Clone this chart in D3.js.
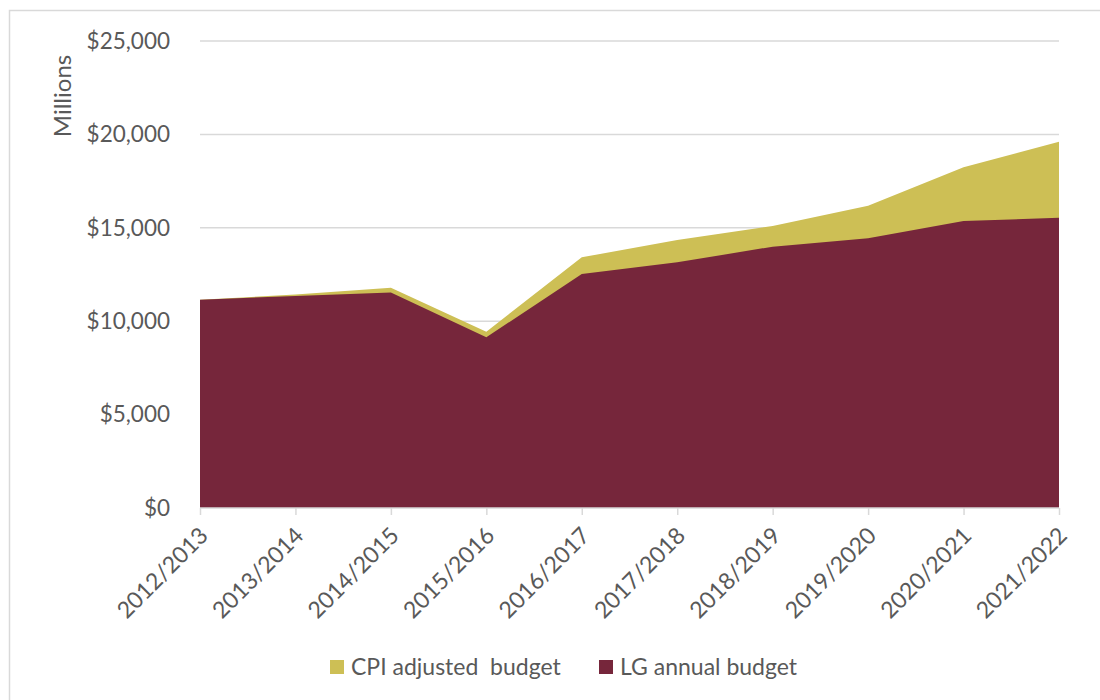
<!DOCTYPE html>
<html>
<head>
<meta charset="utf-8">
<script src="https://cdn.jsdelivr.net/npm/d3@7"></script>
<style>
  html, body { margin: 0; padding: 0; background: #fff; }
  svg { display: block; font-family: Lato, "Open Sans", sans-serif; }
</style>
</head>
<body>
<svg id="chart" width="1100" height="700"></svg>
<script>
// Financial years on the x axis
const years = ["2012/2013", "2013/2014", "2014/2015", "2015/2016", "2016/2017",
               "2017/2018", "2018/2019", "2019/2020", "2020/2021", "2021/2022"];
// Local government annual budget, $ millions
const lgBudget = [11150, 11350, 11530, 9140, 12530, 13150, 13990, 14440, 15360, 15540];
// Budget adjusted by CPI, $ millions
const cpiBudget = [11150, 11430, 11790, 9440, 13420, 14350, 15100, 16180, 18240, 19610];
// Value axis ticks
const yTicks = [0, 5000, 10000, 15000, 20000, 25000];

const seriesNames = ["CPI adjusted  budget", "LG annual budget"];
const colors = { cpi: "#CDBF55", lg: "#76263B" };
const textColor = "#595959";
const gridColor = "#D9D9D9";

const svg = d3.select("#chart");

// Outer chart frame
svg.append("rect")
  .attr("x", 9.5).attr("y", 10.5)
  .attr("width", 1200).attr("height", 800)
  .attr("fill", "none")
  .attr("stroke", gridColor)
  .attr("stroke-width", 1.5);

const x = d3.scalePoint().domain(years).range([200, 1059]);
const y = d3.scaleLinear().domain([0, 25000]).range([508, 41]);

// Horizontal gridlines
svg.append("g")
  .selectAll("line")
  .data(yTicks.filter(d => d > 0))
  .join("line")
  .attr("x1", 200).attr("x2", 1059)
  .attr("y1", d => y(d)).attr("y2", d => y(d))
  .attr("stroke", gridColor)
  .attr("stroke-width", 1.5);

const idx = d3.range(years.length);

const areaOf = vals => d3.area()
  .x(i => x(years[i]))
  .y0(y(0))
  .y1(i => y(vals[i]));

// CPI-adjusted area sits behind the annual budget area
svg.append("path")
  .datum(idx)
  .attr("d", areaOf(cpiBudget))
  .attr("fill", colors.cpi);

svg.append("path")
  .datum(idx)
  .attr("d", areaOf(lgBudget))
  .attr("fill", colors.lg);

// Y axis labels
const yAxis = d3.axisLeft(y)
  .tickValues(yTicks)
  .tickSize(0)
  .tickPadding(0)
  .tickFormat(d => "$" + d3.format(",")(d));

const gy = svg.append("g")
  .attr("transform", "translate(170,0)")
  .call(yAxis);
gy.select(".domain").remove();
gy.selectAll("text")
  .attr("fill", textColor)
  .style("font-size", "22.5px")
  .style("font-family", "Lato, sans-serif");

// X axis with category ticks
const xAxis = d3.axisBottom(x).tickSize(7).tickPadding(4);
const gx = svg.append("g")
  .attr("transform", "translate(0,508)")
  .call(xAxis);
gx.select(".domain").attr("stroke", gridColor).attr("stroke-width", 1.5)
  .attr("d", "M200,0H1059");
gx.selectAll(".tick line").attr("stroke", gridColor).attr("stroke-width", 1.5);
gx.selectAll(".tick text")
  .attr("fill", textColor)
  .style("font-size", "23px")
  .style("font-family", "Lato, sans-serif")
  .attr("text-anchor", "end")
  .attr("dy", null)
  .attr("y", 0)
  .attr("x", 0)
  .attr("transform", "translate(9,29) rotate(-45)");

// Y axis title
svg.append("text")
  .attr("transform", "translate(71,96) rotate(-90)")
  .attr("text-anchor", "middle")
  .attr("fill", textColor)
  .style("font-size", "24px")
  .text("Millions");

// Legend
const legendItems = [
  { name: seriesNames[0], color: colors.cpi, x: 330 },
  { name: seriesNames[1], color: colors.lg, x: 599 }
];
const lg = svg.append("g").selectAll("g")
  .data(legendItems)
  .join("g")
  .attr("transform", d => `translate(${d.x},660)`);
lg.append("rect")
  .attr("width", 14).attr("height", 14)
  .attr("fill", d => d.color);
lg.append("text")
  .attr("x", 21).attr("y", 15)
  .attr("fill", textColor)
  .style("font-size", "23px")
  .style("white-space", "pre")
  .text(d => d.name);
</script>
</body>
</html>
